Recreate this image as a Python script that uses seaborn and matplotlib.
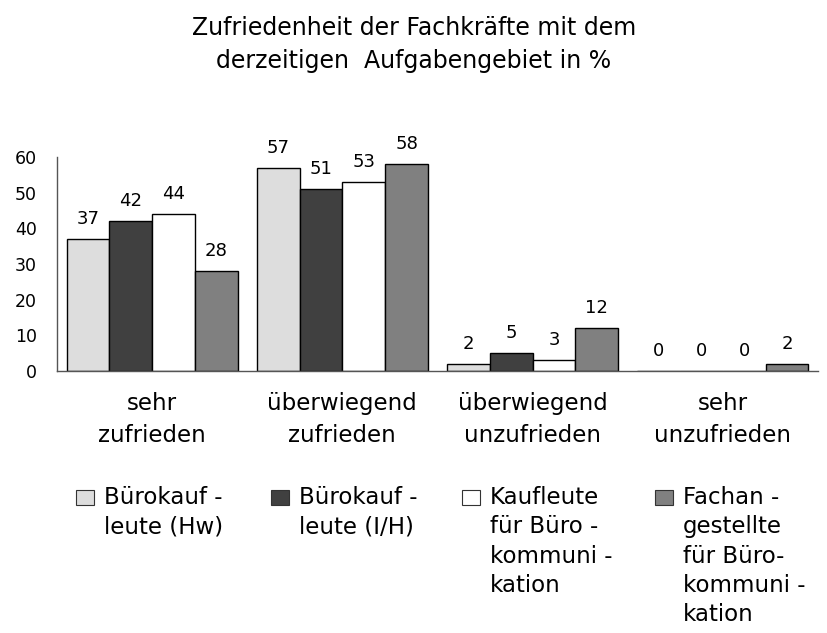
import pandas as pd
import matplotlib.pyplot as plt
from matplotlib.patches import Rectangle
import seaborn as sns

# Werte (Angaben in %)
categories = ['sehr\nzufrieden', 'überwiegend\nzufrieden', 'überwiegend\nunzufrieden', 'sehr\nunzufrieden']
series = ['Bürokauf -\nleute (Hw)', 'Bürokauf -\nleute (I/H)', 'Kaufleute\nfür Büro -\nkommuni -\nkation',
          'Fachan -\ngestellte\nfür Büro-\nkommuni -\nkation']
hw = [37, 57, 2, 0]
ih = [42, 51, 5, 0]
kbk = [44, 53, 3, 0]
fbk = [28, 58, 12, 2]
colors = ['#dddddd', '#404040', '#ffffff', '#808080']

rows = []
for s, vals in zip(series, [hw, ih, kbk, fbk]):
    for c, v in zip(categories, vals):
        rows.append({'Kategorie': c, 'Gruppe': s, 'Prozent': v})
df = pd.DataFrame(rows)

sns.set_style('white')
plt.rcParams['font.family'] = ['DejaVu Sans']
plt.rcParams['text.color'] = 'black'
plt.rcParams['xtick.labelcolor'] = 'black'
plt.rcParams['ytick.labelcolor'] = 'black'

fig = plt.figure(figsize=(8.28, 6.33), dpi=100)
ax = fig.add_axes([57 / 828, 1 - 371 / 633, 761 / 828, 214 / 633])

sns.barplot(data=df, x='Kategorie', y='Prozent', hue='Gruppe', palette=colors,
            width=0.9, gap=0, edgecolor='black', linewidth=1, legend=False, ax=ax)

for cont in ax.containers:
    ax.bar_label(cont, padding=8, fontsize=13, color='black', clip_on=False)
for t in ax.texts:
    t.set_clip_on(False)

ax.set_xlim(-0.5, 3.5)
ax.set_ylim(0, 60)
ax.set_yticks(range(0, 61, 10))
ax.set_xlabel('')
ax.set_ylabel('')
sns.despine(ax=ax)
for sp in ['left', 'bottom']:
    ax.spines[sp].set_color('#555555')
    ax.spines[sp].set_linewidth(1)
ax.tick_params(axis='y', direction='inout', length=7, width=1, color='#555555',
               labelcolor='black', labelsize=12.5, pad=11)
ax.tick_params(axis='x', which='major', length=0, labelcolor='black', labelsize=16.5, pad=15)
ax.set_xticks([-0.5, 0.5, 1.5, 2.5, 3.5], minor=True)
ax.tick_params(axis='x', which='minor', direction='inout', length=7, width=1, color='#555555')
for lab in ax.get_xticklabels():
    lab.set_linespacing(1.5)

fig.text(0.5, 1 - 16 / 633, 'Zufriedenheit der Fachkräfte mit dem\nderzeitigen  Aufgabengebiet in %',
         ha='center', va='top', fontsize=17, linespacing=1.45, color='black')

# Legende von Hand, Markierung auf Höhe der ersten Zeile
x0 = [76, 271, 462, 655]
for xi, lab, col in zip(x0, series, colors):
    fig.patches.append(Rectangle((xi / 828, 1 - 505 / 633), 18 / 828, 15 / 633,
                                 transform=fig.transFigure, facecolor=col,
                                 edgecolor='#333333', linewidth=0.8))
    fig.text((xi + 28) / 828, 1 - 486 / 633, lab, ha='left', va='top',
             fontsize=16.5, linespacing=1.35, color='black')

fig.savefig('out.png', dpi=100)
